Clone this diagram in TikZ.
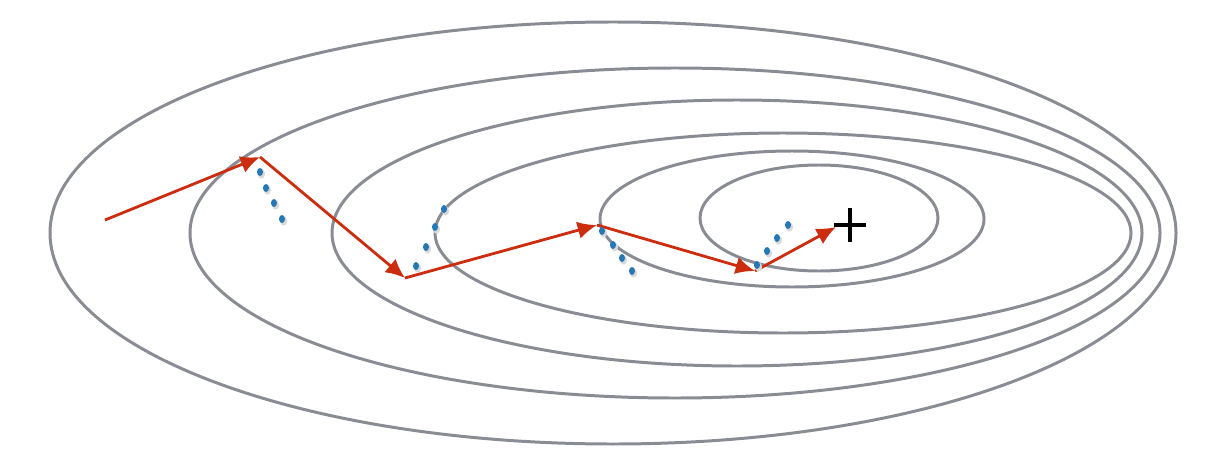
\documentclass[tikz,border=0pt]{standalone}
\usepackage{tikz}
\usetikzlibrary{arrows.meta,calc}
\definecolor{contourgray}{RGB}{138,140,148}
\definecolor{stepred}{RGB}{205,45,15}
\definecolor{dotblue}{RGB}{38,120,180}
\begin{document}
\begin{tikzpicture}[
    x=0.02cm, y=-0.02cm,
    contour/.style={draw=contourgray, line width=1.7pt},
    stepline/.style={-{Latex[length=11pt,width=10pt]}, draw=stepred, line width=1.6pt},
    dot/.style={fill=dotblue, draw=none},
    dotshadow/.style={fill=black!15, draw=none}
]
\useasboundingbox (0,0) rectangle (1222,466);
% contours of the cost
\draw[contour] (613,233) ellipse [x radius=563, y radius=211];
\draw[contour] (675,233) ellipse [x radius=485, y radius=165];
\draw[contour] (737,233) ellipse [x radius=405, y radius=133];
\draw[contour] (783,233) ellipse [x radius=348, y radius=100];
\draw[contour] (792,219) ellipse [x radius=192, y radius=68];
\draw[contour] (819,218) ellipse [x radius=119, y radius=53];
% minimum
\coordinate (opt) at (850,225);
\draw[line width=2.6pt] ($(opt)+(-16,0)$) -- ($(opt)+(16,0)$);
\draw[line width=2.6pt] ($(opt)+(0,-17)$) -- ($(opt)+(0,17)$);
% steps
\coordinate (p0) at (105,220);
\coordinate (p1) at (260,157);
\coordinate (p2) at (405,278);
\coordinate (p3) at (597,225);
\coordinate (p4) at (755,271);
\coordinate (p5) at (836,227);
\draw[stepline] (p0) -- (p1);
\draw[stepline] (p1) -- (p2);
\draw[stepline] (p2) -- (p3);
\draw[stepline] (p3) -- (p4);
\draw[stepline] (p4) -- (p5);
% dots
\foreach \dx/\dy in {260/172, 266/188, 274/203, 282/219,
                     444/209, 435/227, 426/247, 416/266,
                     602/231, 613/245, 622/258, 632/271,
                     757/265, 767/251, 777/238, 788/225}{
  \fill[dotshadow] (\dx+1.5,\dy+2) ellipse [x radius=3.6, y radius=4.6];
  \fill[dot] (\dx,\dy) ellipse [x radius=3, y radius=4];
}
\end{tikzpicture}
\end{document}
